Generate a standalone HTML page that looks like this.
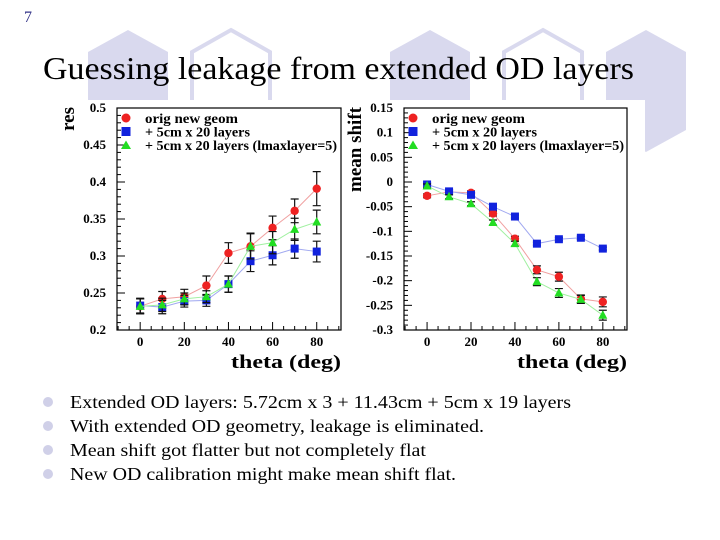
<!DOCTYPE html>
<html><head><meta charset="utf-8"><style>
body{margin:0;background:#fff;}
svg{display:block;font-family:"Liberation Serif",serif;}
</style></head><body>
<svg id="s" width="720" height="540" viewBox="0 0 720 540" xmlns="http://www.w3.org/2000/svg">
<g>
<polygon points="128,30 168,52 168,120 128,142 88,120 88,52" fill="#d9d9ee"/>
<polygon points="231,30 270,52 270,120 231,142 192,120 192,52" fill="none" stroke="#d9d9ee" stroke-width="4"/>
<polygon points="430,30 470,52 470,120 430,142 390,120 390,52" fill="#d9d9ee"/>
<polygon points="543,30 582,52 582,120 543,142 504,120 504,52" fill="none" stroke="#d9d9ee" stroke-width="4"/>
<polygon points="646,30 686,52 686,130 646,152 606,130 606,52" fill="#d9d9ee"/>
</g>
<text x="24" y="22" font-size="16" fill="#333388">7</text>
<text x="43" y="79" font-size="32" fill="#000" textLength="591" lengthAdjust="spacingAndGlyphs">Guessing leakage from extended OD layers</text>
<rect x="55" y="100" width="590" height="278" fill="#fff"/>
<g id="charts"></g>
<g font-size="18">
<circle cx="48" cy="402" r="5" fill="#d0d0e8"/>
<text x="70" y="408" textLength="501" lengthAdjust="spacingAndGlyphs">Extended OD layers: 5.72cm x 3 + 11.43cm + 5cm x 19 layers</text>
<circle cx="48" cy="426" r="5" fill="#d0d0e8"/>
<text x="70" y="432" textLength="414" lengthAdjust="spacingAndGlyphs">With extended OD geometry, leakage is eliminated.</text>
<circle cx="48" cy="450" r="5" fill="#d0d0e8"/>
<text x="70" y="456" textLength="356" lengthAdjust="spacingAndGlyphs">Mean shift got flatter but not completely flat</text>
<circle cx="48" cy="474" r="5" fill="#d0d0e8"/>
<text x="70" y="480" textLength="386" lengthAdjust="spacingAndGlyphs">New OD calibration might make mean shift flat.</text>
</g>
</svg>
<script>
const theta = [0,10,20,30,40,50,60,70,80];
const resOrig = [0.232,0.242,0.245,0.260,0.304,0.313,0.338,0.361,0.391];
const resOrigErr = [0.010,0.010,0.010,0.013,0.014,0.018,0.016,0.016,0.023];
const resLayers = [0.233,0.231,0.239,0.240,0.262,0.293,0.301,0.310,0.306];
const resLayersErr = [0.010,0.009,0.008,0.008,0.011,0.014,0.013,0.013,0.014];
const resLmax = [0.232,0.234,0.242,0.245,0.262,0.313,0.318,0.336,0.346];
const resLmaxErr = [0.010,0.009,0.008,0.008,0.011,0.017,0.015,0.015,0.016];
const shiftOrig = [-0.028,-0.020,-0.022,-0.064,-0.115,-0.178,-0.192,-0.237,-0.243];
const shiftLayers = [-0.005,-0.019,-0.026,-0.050,-0.070,-0.125,-0.116,-0.113,-0.135];
const shiftLmax = [-0.008,-0.030,-0.044,-0.082,-0.125,-0.202,-0.225,-0.238,-0.270];
const shiftErr = [0.004,0.004,0.004,0.005,0.005,0.008,0.009,0.008,0.010];
const resTicks = [0.2,0.25,0.3,0.35,0.4,0.45,0.5];
const resTickLabels = ["0.2","0.25","0.3","0.35","0.4","0.45","0.5"];
const shiftTicks = [-0.3,-0.25,-0.2,-0.15,-0.1,-0.05,0,0.05,0.1,0.15];
const shiftTickLabels = ["-0.3","-0.25","-0.2","-0.15","-0.1","-0.05","0","0.05","0.1","0.15"];
const xTicks = [0,20,40,60,80];
const legendLabels = ["orig new geom","+ 5cm x 20 layers","+ 5cm x 20 layers (lmaxlayer=5)"];
const legendWidths = [93,105,192];

const NS="http://www.w3.org/2000/svg";
const root=document.getElementById('charts');
function mk(tag,attrs,parent){const e=document.createElementNS(NS,tag);for(const k in attrs)e.setAttribute(k,attrs[k]);(parent||root).appendChild(e);return e;}

function drawChart(cfg){
  const g=mk('g',{});
  
  
  const L=cfg.x0,R=cfg.x1,T=108,B=330;
  const xs=v=>L+(v-(-10.5))/(91-(-10.5))*(R-L);
  const ys=v=>B-(v-cfg.ymin)/(cfg.ymax-cfg.ymin)*(B-T);
  const frame=mk('rect',{x:L,y:T,width:R-L,height:B-T,fill:'none',stroke:'#000','stroke-width':1.2},g);
  
  
  const step=(cfg.yTicks[1]-cfg.yTicks[0])/5;
  for(let k=0;cfg.ymin+k*step<=cfg.ymax+1e-9;k++){
    const y=ys(cfg.ymin+k*step);const major=k%5===0;
    mk('line',{x1:L,x2:L+(major?8:4),y1:y,y2:y,stroke:'#000','stroke-width':1},g);
  }
  cfg.yTicks.forEach((v,i)=>{
    const t=mk('text',{x:L-11,y:ys(v)+4,'text-anchor':'end','font-size':13,'font-weight':'bold'},g);
    t.textContent=cfg.yLabels[i];
    
    
  });
  for(let v=-10;v<=90;v+=5){
    const x=xs(v);const major=v%20===0;
    mk('line',{x1:x,x2:x,y1:B,y2:B-(major?8:4),stroke:'#000','stroke-width':1},g);
  }
  xTicks.forEach(v=>{
    const t=mk('text',{x:xs(v),y:B+16,'text-anchor':'middle','font-size':13,'font-weight':'bold'},g);
    t.textContent=v;
    
    
  });
  const xt=mk('text',{x:R,y:368,'text-anchor':'end','font-size':19,'font-weight':'bold',textLength:110,lengthAdjust:'spacingAndGlyphs'},g);
  xt.textContent='theta (deg)';
  
  
  const yt=mk('text',{x:0,y:0,'text-anchor':'end','font-size':19,'font-weight':'bold',transform:`translate(${cfg.ytx},107) rotate(-90)`},g);
  yt.textContent=cfg.ytitle;
  
  
  const colors=['#ee2222','#1122dd','#22dd22'];
  const lineCol=['#f0a0a0','#a0a8f0','#a0f0a0'];
  cfg.series.forEach((s,si)=>{
    const sg=mk('g',{},g);
    
    
    mk('polyline',{points:theta.map((t,i)=>xs(t)+','+ys(s.v[i])).join(' '),fill:'none',stroke:lineCol[si],'stroke-width':1},sg);
    theta.forEach((t,i)=>{
      const x=xs(t),y1=ys(s.v[i]-s.e[i]),y2=ys(s.v[i]+s.e[i]);
      mk('path',{d:`M${x},${y1}V${y2}M${x-4},${y1}h8M${x-4},${y2}h8`,stroke:'#111','stroke-width':1.2,fill:'none'},sg);
    });
    theta.forEach((t,i)=>{
      const x=xs(t),y=ys(s.v[i]);let m;
      if(si===0)m=mk('circle',{cx:x,cy:y,r:4.2,fill:colors[0]},sg);
      else if(si===1)m=mk('rect',{x:x-4,y:y-4,width:8,height:8,fill:colors[1]},sg);
      else m=mk('polygon',{points:`${x},${y-5} ${x+4.5},${y+3.5} ${x-4.5},${y+3.5}`,fill:colors[2]},sg);
      
      
    });
  });
  legendLabels.forEach((lab,i)=>{
    const y=119+i*13.5,x=L+9;
    let m;
    if(i===0)m=mk('circle',{cx:x,cy:y-1,r:4.5,fill:colors[0]},g);
    else if(i===1)m=mk('rect',{x:x-4.5,y:y-5.5,width:9,height:9,fill:colors[1]},g);
    else m=mk('polygon',{points:`${x},${y-5.5} ${x+5},${y+3} ${x-5},${y+3}`,fill:colors[2]},g);
    
    
    const t=mk('text',{x:L+28,y:y+4,'font-size':14,'font-weight':'bold',textLength:legendWidths[i],lengthAdjust:'spacingAndGlyphs'},g);
    t.textContent=lab;
    
    
  });
}
drawChart({name:'res-chart',x0:117,x1:341,ymin:0.2,ymax:0.5,yTicks:resTicks,yLabels:resTickLabels,ytitle:'res',ytx:74,
  series:[{v:resOrig,e:resOrigErr},{v:resLayers,e:resLayersErr},{v:resLmax,e:resLmaxErr}]});
drawChart({name:'mean-shift-chart',x0:404,x1:627,ymin:-0.3,ymax:0.15,yTicks:shiftTicks,yLabels:shiftTickLabels,ytitle:'mean shift',ytx:361,
  series:[{v:shiftOrig,e:shiftErr},{v:shiftLayers,e:shiftErr.map(()=>0.003)},{v:shiftLmax,e:shiftErr}]});
</script>
</body></html>
